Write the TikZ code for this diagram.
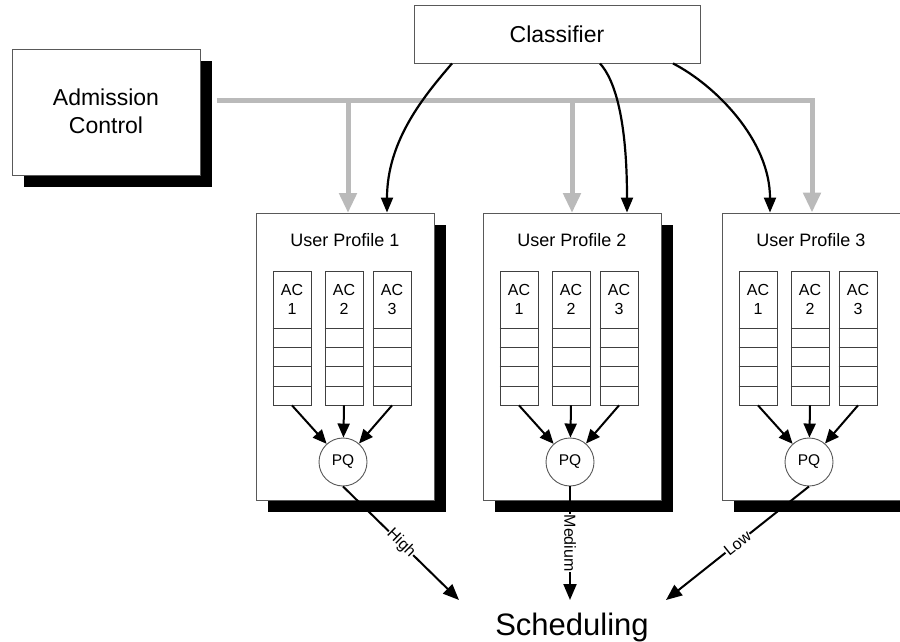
\documentclass[tikz,border=0pt]{standalone}
\usepackage{fontspec}
\setmainfont{Liberation Sans}
\usetikzlibrary{arrows.meta,shadows}

\begin{document}
\begin{tikzpicture}[x=1pt,y=-1pt,
  frame/.style={draw=black!65, line width=0.9pt, fill=white, inner sep=0pt},
  shadowbox/.style={frame, drop shadow={shadow xshift=12pt, shadow yshift=-12pt, fill=black, opacity=1}},
  bigtext/.style={font=\fontsize{23}{28}\selectfont, align=center},
  titletext/.style={font=\fontsize{18}{22}\selectfont},
  queue/.style={draw=black!75, line width=0.8pt, fill=white, minimum width=38pt, minimum height=134pt, inner sep=0pt},
  cellline/.style={draw=black!75, line width=0.8pt},
  aclabel/.style={font=\fontsize{16}{19}\selectfont, align=center, inner sep=0pt},
  pqnode/.style={circle, draw=black!65, line width=0.9pt, fill=white, minimum size=48pt, inner sep=0pt, font=\fontsize{15.5}{18}\selectfont},
  busline/.style={draw=black!27, line width=5pt},
  busarrow/.style={busline, -{Triangle[length=20pt,width=17pt]}},
  ctrl/.style={draw=black, line width=2.2pt, -{Triangle[length=15pt,width=12pt]}},
  feed/.style={draw=black, line width=2pt, -{Triangle[length=14pt,width=12pt]}},
  outarrow/.style={draw=black, line width=2pt, -{Triangle[length=16pt,width=13pt]}},
  prio/.style={fill=white, inner sep=0.5pt, font=\fontsize{16}{18}\selectfont}
]
\useasboundingbox (0,0) rectangle (900,642);

% controller boxes
\node[shadowbox, minimum width=188pt, minimum height=126pt] (adm) at (106,112) {};
\node[bigtext] at (106,111) {Admission\\Control};
\node[frame, minimum width=286pt, minimum height=58pt, font=\fontsize{23}{27}\selectfont] (cls) at (557,34) {Classifier};

% user profiles with their access-category queues and priority queue
\foreach \i/\cx in {1/345,2/572,3/811} {
  \node[shadowbox, minimum width=178pt, minimum height=287pt] (up\i) at (\cx,356.5) {};
  \node[titletext] at (\cx,240) {User Profile \i};
  \foreach \j/\dx in {1/-53,2/-1,3/47} {
    \node[queue] (q\i\j) at (\cx+\dx,338) {};
    \node[aclabel] at (\cx+\dx,299) {AC\\\j};
    \foreach \yy in {328,347,366,386}
      \draw[cellline] (q\i\j.west |- 0,\yy) -- (q\i\j.east |- 0,\yy);
  }
  \node[pqnode] (pq\i) at (\cx-2,462) {PQ};
  \draw[feed] (q\i1.south) -- (pq\i);
  \draw[feed] (q\i2.south) -- (pq\i);
  \draw[feed] (q\i3.south) -- (pq\i);
}

% admission control bus
\coordinate (bus0) at (217,100);
\draw[busarrow] (bus0) -| ([xshift=1pt]up3.north);
\draw[busarrow] (348,100) -- (348,213);
\draw[busarrow] (572,100) -- (572,213);

% classifier outputs
\draw[ctrl] ([xshift=-105pt]cls.south) .. controls (425,95) and (387,140) .. ([xshift=42pt]up1.north);
\draw[ctrl] ([xshift=43pt]cls.south) .. controls (615,80) and (627,120) .. ([xshift=55pt]up2.north);
\draw[ctrl] ([xshift=116pt]cls.south) .. controls (715,85) and (770,140) .. ([xshift=-41pt]up3.north);

% scheduling
\node[font=\fontsize{31}{36}\selectfont, anchor=base] (sched) at (572,635) {Scheduling};
\coordinate (in1) at (459,600);
\coordinate (in2) at (570,600);
\coordinate (in3) at (666,600);
\draw[outarrow] (pq1.south) -- node[prio, rotate=-44.5] {High} (in1);
\draw[outarrow] (pq2.south) -- node[prio, rotate=-90] {Medium} (in2);
\draw[outarrow] (pq3.south) -- node[prio, rotate=38.6] {Low} (in3);
\end{tikzpicture}
\end{document}
